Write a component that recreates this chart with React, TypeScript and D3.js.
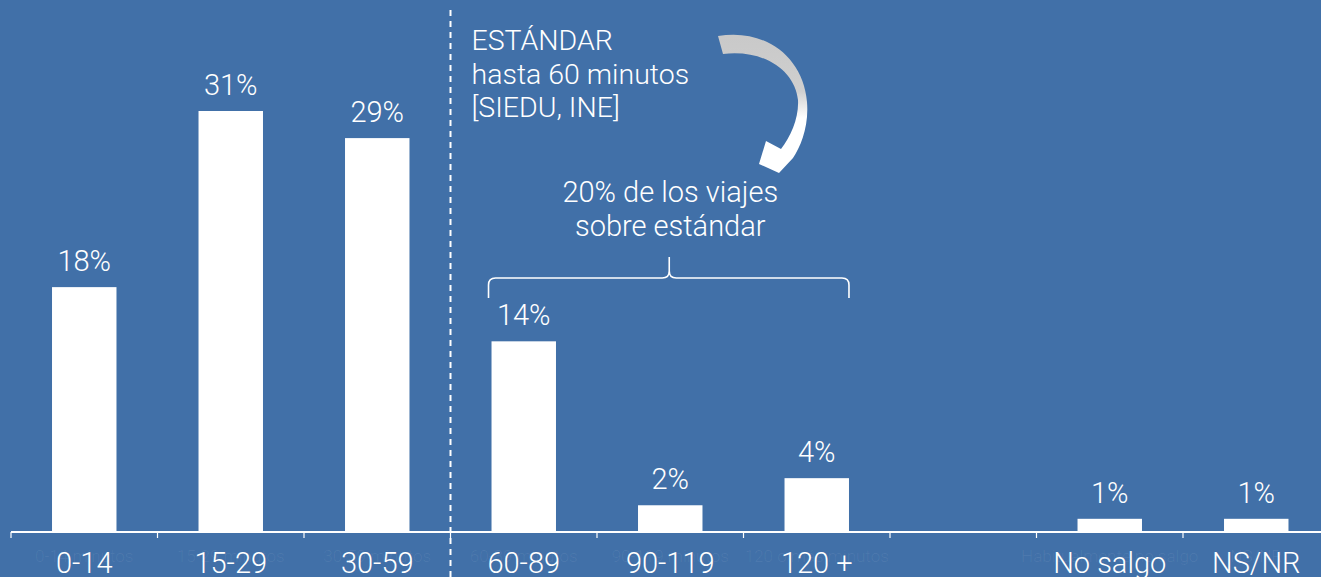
import React from "react";
import * as d3 from "d3";

const categories = ["0-14", "15-29", "30-59", "60-89", "90-119", "120 +", "", "No salgo", "NS/NR"];
const hiddenLabels = ["0-14 minutos", "15-29 minutos", "30-59 minutos", "60-89 minutos", "90-119 minutos", "120 o más minutos", "", "Habitualmente no salgo", "NS/NR"];
const values = [18, 31, 29, 14, 1.9, 3.9, 0, 0.9, 0.9];
const standardLines = ["ESTÁNDAR", "hasta 60 minutos", "[SIEDU, INE]"];
const overLines = ["20% de los viajes", "sobre estándar"];

const W = 1321;
const H = 577;
const BG = "#4170a8";
const FONT = "Roboto, 'Open Sans', sans-serif";
const FS = 29;

const textStyle = {
  fontSize: FS,
  fontWeight: 300,
  fill: "#ffffff",
} as const;

export default function App() {
  const step = 146.5;
  const x0 = 11;
  const x = d3
    .scaleBand<string>()
    .domain(categories.map((c, i) => `${i}`))
    .range([x0, x0 + step * categories.length])
    .paddingInner(0.56)
    .paddingOuter(0.28);
  const baseY = 531;
  const y = d3.scaleLinear().domain([0, 31]).range([baseY, 111]);
  const bw = x.bandwidth();
  const st = x.step();
  const boundary = (i: number) => (x(`${i}`) as number) - (st * 0.56) / 2;
  const center = (i: number) => (x(`${i}`) as number) + bw / 2;

  const dashX = boundary(3);
  const braceL = (x("3") as number) - 3;
  const braceR = (x("5") as number) + bw;
  const braceC = center(4) - 1;
  const bTop = 257;
  const bMid = 278;
  const bBot = 298;
  const r = 7;
  const bracePath = `M${braceL},${bBot} L${braceL},${bMid + r} Q${braceL},${bMid} ${braceL + r},${bMid} L${braceC - r},${bMid} Q${braceC},${bMid} ${braceC},${bMid - r} L${braceC},${bTop} M${braceC},${bMid - r} Q${braceC},${bMid} ${braceC + r},${bMid} L${braceR - r},${bMid} Q${braceR},${bMid} ${braceR},${bMid + r} L${braceR},${bBot}`;

  const arrowPath =
    "M718,36 C764,28 803,56 807,102 C809,126 801,146 793,158 L779,173 L759,164 L766,141 L781,149 C791,136 799,118 798,100 C795,72 766,49 723,54 Z";

  return (
    <svg
      width={W}
      height={H}
      style={{ position: "fixed", left: 0, top: 0, display: "block" }}
      fontFamily={FONT}
    >
      <defs>
        <linearGradient id="arrowGrad" x1="0" y1="37" x2="0" y2="172" gradientUnits="userSpaceOnUse">
          <stop offset="0" stopColor="#c9c9c9" />
          <stop offset="0.4" stopColor="#cfcfcf" />
          <stop offset="0.6" stopColor="#ffffff" />
          <stop offset="1" stopColor="#ffffff" />
        </linearGradient>
      </defs>
      <rect x={0} y={0} width={W} height={H} fill={BG} />

      {/* hidden faint labels */}
      {hiddenLabels.map((t, i) =>
        t ? (
          <text
            key={`h${i}`}
            x={center(i)}
            y={562}
            textAnchor="middle"
            fontSize={17}
            fontWeight={300}
            fill="#ffffff"
            fillOpacity={0.07}
          >
            {t}
          </text>
        ) : null
      )}

      {/* bars */}
      {values.map((v, i) =>
        v > 0 ? (
          <rect
            key={`b${i}`}
            x={x(`${i}`)}
            y={y(v)}
            width={bw}
            height={baseY - y(v)}
            fill="#ffffff"
          />
        ) : null
      )}

      {/* value labels */}
      {values.map((v, i) =>
        v > 0 ? (
          <text key={`v${i}`} x={center(i)} y={y(v) - 16} textAnchor="middle" style={textStyle}>
            {`${Math.round(v)}%`}
          </text>
        ) : null
      )}

      {/* axis */}
      <line x1={x0} x2={W} y1={baseY + 1} y2={baseY + 1} stroke="#ffffff" strokeWidth={2} />
      {categories.map((c, i) => (
        <line
          key={`t${i}`}
          x1={boundary(i)}
          x2={boundary(i)}
          y1={baseY + 1}
          y2={baseY + 7}
          stroke="#ffffff"
          strokeWidth={1.2}
        />
      ))}
      {categories.map((c, i) =>
        c ? (
          <text key={`c${i}`} x={center(i)} y={573} textAnchor="middle" style={textStyle}>
            {c}
          </text>
        ) : null
      )}

      {/* dashed standard line */}
      <line
        x1={dashX}
        x2={dashX}
        y1={10}
        y2={H}
        stroke="#ffffff"
        strokeWidth={2}
        strokeDasharray="6 5"
      />

      {/* standard text */}
      {standardLines.map((t, i) => (
        <text key={`s${i}`} x={dashX + 21} y={50 + i * 33.5} style={{ ...textStyle, fontSize: 28.5 }}>
          {t}
        </text>
      ))}

      {/* curved arrow */}
      <path d={arrowPath} fill="url(#arrowGrad)" />

      {/* over-standard annotation */}
      {overLines.map((t, i) => (
        <text key={`o${i}`} x={braceC + 1} y={202 + i * 34} textAnchor="middle" style={textStyle}>
          {t}
        </text>
      ))}
      <path d={bracePath} fill="none" stroke="#ffffff" strokeWidth={1.6} />
    </svg>
  );
}
